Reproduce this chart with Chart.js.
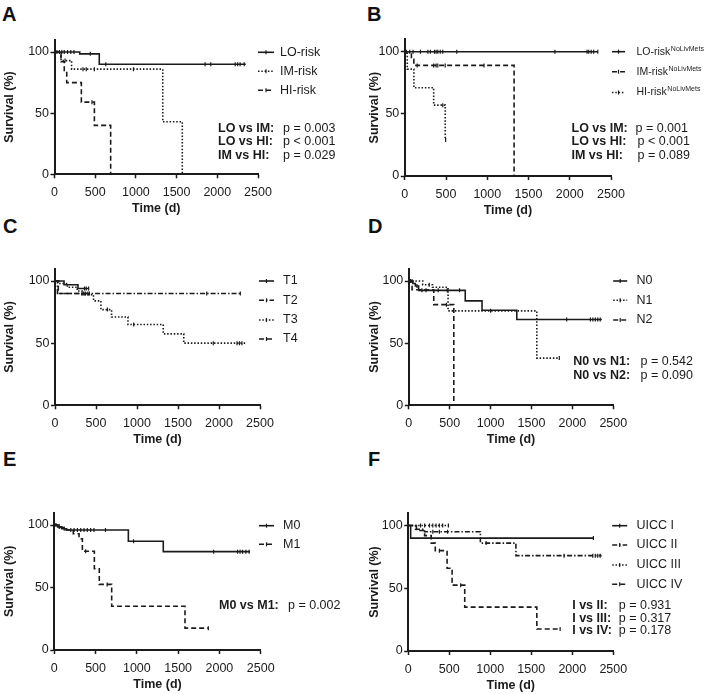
<!DOCTYPE html>
<html>
<head>
<meta charset="utf-8">
<script src="https://cdn.jsdelivr.net/npm/chart.js@4.4.1/dist/chart.umd.min.js"></script>
<style>
  body { margin: 0; background: #fff; width: 709px; height: 694px; position: relative; overflow: hidden; font-family: "Liberation Sans", Arial, sans-serif; }
  canvas { position: absolute; }
  .tag { position: absolute; font-weight: bold; font-size: 20px; line-height: 20px; color: #111; }
</style>
</head>
<body>
<div class="tag" style="left:2px;top:4px">A</div>
<div class="tag" style="left:367px;top:4px">B</div>
<div class="tag" style="left:3px;top:216px">C</div>
<div class="tag" style="left:368px;top:216px">D</div>
<div class="tag" style="left:3px;top:449px">E</div>
<div class="tag" style="left:368px;top:449px">F</div>
<canvas id="pA"></canvas>
<canvas id="pB"></canvas>
<canvas id="pC"></canvas>
<canvas id="pD"></canvas>
<canvas id="pE"></canvas>
<canvas id="pF"></canvas>
<script>
// tick labels
const xTicks = [0, 500, 1000, 1500, 2000, 2500];
const yTicks = [0, 50, 100];

// A - risk groups (time in days, survival in %)
const aLoT = [0, 310, 550];
const aLoS = [100, 98.5, 90];
const aLoEnd = 2350;
const aLoCens = [30, 60, 90, 120, 160, 200, 240, 440, 630, 1850, 1920, 2220, 2250, 2280, 2330];
const aImT = [0, 80, 210, 1330, 1570];
const aImS = [100, 93, 86, 43, 0];
const aImEnd = 1570;
const aImCens = [130, 350, 390, 490, 970];
const aHiT = [0, 80, 120, 150, 330, 490, 690];
const aHiS = [100, 92, 84, 75, 59, 40, 0];
const aHiEnd = 690;
const aHiCens = [460];

// B - risk groups without liver metastases
const bLoT = [0];
const bLoS = [100];
const bLoEnd = 2340;
const bLoCens = [20, 60, 100, 190, 280, 310, 360, 380, 400, 430, 460, 630, 1820, 2210, 2230, 2260, 2290, 2340];
const bImT = [0, 80, 110, 1325];
const bImS = [100, 94, 89, 0];
const bImEnd = 1325;
const bImCens = [150, 350, 380, 400, 490, 960];
const bHiT = [0, 30, 110, 350, 490];
const bHiS = [100, 86, 71, 57, 29];
const bHiEnd = 495;
const bHiCens = [460, 495];

// C - T stage
const cT1T = [0, 110, 280];
const cT1S = [100, 97, 94];
const cT1End = 410;
const cT1Cens = [360, 380, 410];
const cT2T = [0, 30];
const cT2S = [100, 90];
const cT2End = 2260;
const cT2Cens = [350, 400, 1850, 2260];
const cT3T = [0, 60, 150, 270, 330, 470, 560, 690, 890, 1320, 1570];
const cT3S = [100, 98, 95, 92, 89, 84, 77, 71, 65, 57.5, 50];
const cT3End = 2330;
const cT3Cens = [640, 960, 1930, 2220, 2250, 2280];
const cT4T = [0, 40];
const cT4S = [100, 90];
const cT4End = 420;
const cT4Cens = [330, 370, 420];

// D - N stage
const dN0T = [0, 50, 80, 120, 690, 895, 1320];
const dN0S = [100, 98, 96, 92.5, 84, 76.5, 69];
const dN0End = 2360;
const dN0Cens = [20, 40, 100, 160, 210, 360, 470, 620, 1930, 2220, 2250, 2280, 2310, 2340];
const dN1T = [0, 170, 290, 480, 1565];
const dN1S = [100, 97, 95, 76, 38];
const dN1End = 1840;
const dN1Cens = [250, 1000, 1840];
const dN2T = [0, 40, 305, 550];
const dN2S = [100, 93, 81, 0];
const dN2End = 550;
const dN2Cens = [460];

// E - M stage
const eM0T = [0, 40, 90, 150, 897, 1320];
const eM0S = [100, 98.5, 97, 96, 87, 78.7];
const eM0End = 2370;
const eM0Cens = [20, 60, 120, 200, 240, 280, 320, 360, 400, 440, 480, 620, 960, 1930, 2220, 2250, 2280, 2320, 2360];
const eM1T = [0, 60, 130, 230, 300, 340, 485, 545, 695, 1583];
const eM1S = [100, 98, 96, 93, 89, 79, 65, 52.5, 35, 17.5];
const eM1End = 1866;
const eM1Cens = [380, 640, 1866];

// F - UICC stage
const fU1T = [0, 30];
const fU1S = [100, 90];
const fU1End = 2257;
const fU1Cens = [2257];
const fU2T = [0, 90, 200, 880, 1313];
const fU2S = [100, 97, 95, 86, 76];
const fU2End = 2358;
const fU2Cens = [300, 380, 480, 950, 1900, 2250, 2280, 2310, 2340];
const fU3T = [0];
const fU3S = [100];
const fU3End = 490;
const fU3Cens = [150, 200, 260, 300, 340, 380, 420, 490];
const fU4T = [0, 100, 200, 280, 330, 474, 535, 689, 1568];
const fU4S = [100, 96, 92, 86, 80, 66, 52.5, 35, 17.5];
const fU4End = 1852;
const fU4Cens = [380, 640, 1852];

// legend names and test results
const legendA = ['LO-risk', 'IM-risk', 'HI-risk'];
const statsA = [['LO vs IM:', 'p = 0.003'], ['LO vs HI:', 'p < 0.001'], ['IM vs HI:', 'p = 0.029']];
const legendB = ['LO-risk', 'IM-risk', 'HI-risk'];
const statsB = [['LO vs IM:', 'p = 0.001'], ['LO vs HI:', 'p < 0.001'], ['IM vs HI:', 'p = 0.089']];
const legendC = ['T1', 'T2', 'T3', 'T4'];
const legendD = ['N0', 'N1', 'N2'];
const statsD = [['N0 vs N1:', 'p = 0.542'], ['N0 vs N2:', 'p = 0.090']];
const legendE = ['M0', 'M1'];
const statsE = [['M0 vs M1:', 'p = 0.002']];
const legendF = ['UICC I', 'UICC II', 'UICC III', 'UICC IV'];
const statsF = [['I vs II:', 'p = 0.931'], ['I vs III:', 'p = 0.317'], ['I vs IV:', 'p = 0.178']];

const INK = '#1b1b1b';
const FONT = '"Liberation Sans", Arial, sans-serif';
const SOLID = [], DOT = [1.5, 1.8], DASH = [5, 3], DASHDOT = [5, 2, 1.5, 2];

Chart.defaults.font.family = FONT;
Chart.defaults.color = INK;

function steps(t, s, end) {
  const pts = t.map((x, i) => ({ x: x, y: s[i] }));
  if (end > t[t.length - 1]) pts.push({ x: end, y: s[s.length - 1] });
  return pts;
}

function censored(t, s, times) {
  return times.map(x => {
    let y = s[0];
    t.forEach((tt, i) => { if (tt <= x) y = s[i]; });
    return { x: x, y: y };
  });
}

function textPlugin(lay, curves, names, stats, sup) {
  return {
    id: 'kmText',
    afterDraw(chart) {
      const ctx = chart.ctx;
      const ox = lay.box[0], oy = lay.box[1];
      const legSize = sup ? 10.5 : 12.5;
      ctx.save();
      ctx.fillStyle = INK;
      ctx.strokeStyle = INK;
      ctx.textBaseline = 'middle';
      names.forEach((n, i) => {
        const y = lay.leg.rows[i] - oy;
        ctx.lineWidth = 1.6;
        ctx.setLineDash(curves[i].dash);
        ctx.beginPath();
        ctx.moveTo(lay.leg.x0 - ox, y);
        ctx.lineTo(lay.leg.x1 - ox, y);
        ctx.stroke();
        ctx.setLineDash([]);
        ctx.lineWidth = 1.2;
        const mx = (lay.leg.x0 + lay.leg.x1) / 2 - ox;
        ctx.beginPath();
        ctx.moveTo(mx, y - 2);
        ctx.lineTo(mx, y + 2);
        ctx.stroke();
        ctx.font = legSize + 'px ' + FONT;
        ctx.fillText(n, lay.leg.tx - ox, y);
        if (sup) {
          const w = ctx.measureText(n).width;
          ctx.font = '7px ' + FONT;
          ctx.fillText(sup, lay.leg.tx - ox + w + 0.5, y - 3);
        }
      });
      (stats || []).forEach((r, i) => {
        const y = lay.stat.rows[i] - oy;
        ctx.font = 'bold 12.5px ' + FONT;
        ctx.fillText(r[0], lay.stat.lx - ox, y);
        ctx.font = '12.5px ' + FONT;
        ctx.fillText(r[1], lay.stat.vx[i] - ox, y);
      });
      ctx.restore();
    }
  };
}

function kmPanel(id, lay, curves, names, stats, sup) {
  const cv = document.getElementById(id);
  const [cl, ct, cw] = lay.box;
  const [pl, pr, pt, pb] = lay.plot;
  const xH = 45.5;
  const ch = Math.round(pb - ct + xH);
  cv.width = cw;
  cv.height = ch;
  cv.style.left = cl + 'px';
  cv.style.top = ct + 'px';

  const datasets = [];
  curves.forEach(c => {
    datasets.push({
      type: 'line', data: steps(c.t, c.s, c.end), stepped: true,
      borderColor: INK, borderWidth: 1.6, borderDash: c.dash,
      pointRadius: 0, fill: false, clip: 4
    });
    datasets.push({
      type: 'scatter', data: censored(c.t, c.s, c.cens), showLine: false,
      pointStyle: 'line', rotation: 90, pointRadius: 2,
      borderColor: INK, borderWidth: 1.2, clip: 4
    });
  });

  new Chart(cv, {
    type: 'line',
    data: { datasets: datasets },
    options: {
      responsive: false,
      animation: false,
      devicePixelRatio: 1,
      layout: { padding: { left: 0, top: pt - ct, right: cl + cw - pr, bottom: 0 } },
      plugins: { legend: { display: false }, tooltip: { enabled: false } },
      scales: {
        x: {
          type: 'linear', min: 0, max: 2500,
          afterBuildTicks: s => { s.ticks = xTicks.map(v => ({ value: v })); },
          afterFit: s => { s.height = ch - (pb - ct); },
          grid: { drawOnChartArea: false, drawTicks: true, tickLength: 4, tickWidth: 1.5, tickColor: INK },
          border: { display: true, color: INK, width: 2 },
          ticks: { font: { size: 12.5 }, color: INK, padding: 7, maxRotation: 0, callback: v => String(v) },
          title: { display: true, text: 'Time (d)', font: { size: 12.5, weight: 'bold' }, color: INK, padding: { top: 2, bottom: 4 } }
        },
        y: {
          type: 'linear', min: 0, max: 110,
          afterBuildTicks: s => { s.ticks = yTicks.map(v => ({ value: v })); },
          afterFit: s => { s.width = pl - cl; },
          grid: { drawOnChartArea: false, drawTicks: true, tickLength: 4, tickWidth: 1.5, tickColor: INK },
          border: { display: true, color: INK, width: 2 },
          ticks: { font: { size: 12.5 }, color: INK, padding: 1.5, callback: v => String(v) },
          title: { display: true, text: 'Survival (%)', font: { size: 12.5, weight: 'bold' }, color: INK, padding: { top: 2, bottom: 2 } }
        }
      }
    },
    plugins: [textPlugin(lay, curves, names, stats, sup)]
  });
}

// panel geometry in page pixels: canvas [left, top, width], plot [x0, x2500, y110, y0]
const layA = { box: [0, 0, 354], plot: [54.5, 258, 39.8, 174.3],
  leg: { x0: 258, x1: 274, tx: 280, rows: [52.3, 71.3, 90.3] },
  stat: { lx: 218, vx: [283, 283, 283], rows: [128.3, 141.8, 155.3] } };
const layB = { box: [364.5, 0, 344.5], plot: [404.3, 611, 39.3, 176],
  leg: { x0: 611.5, x1: 624.5, tx: 636, rows: [51.7, 71.7, 92.5] },
  stat: { lx: 571, vx: [635, 637, 637], rows: [128.3, 141.8, 155.3] } };
const layC = { box: [0, 228, 354], plot: [55, 260, 268.6, 405.3],
  leg: { x0: 259, x1: 274, tx: 283, rows: [281, 300.3, 320, 339] } };
const layD = { box: [364.5, 228, 344.5], plot: [408.3, 613.3, 268.6, 405.3],
  leg: { x0: 612.7, x1: 626.7, tx: 636, rows: [281, 300.3, 320] },
  stat: { lx: 572.7, vx: [640, 640], rows: [361.7, 375.7] } };
const layE = { box: [0, 456, 354], plot: [54.3, 260.7, 512.5, 650],
  leg: { x0: 259, x1: 274, tx: 283, rows: [525.7, 544.3] },
  stat: { lx: 219, vx: [288], rows: [605.7] } };
const layF = { box: [364.5, 456, 344.5], plot: [407.7, 613.3, 513, 651],
  leg: { x0: 611.7, x1: 626.7, tx: 636, rows: [525.7, 545, 565, 584.3] },
  stat: { lx: 571.7, vx: [618.3, 618.3, 618.3], rows: [605.7, 618.3, 631] } };

kmPanel('pA', layA, [
  { t: aLoT, s: aLoS, end: aLoEnd, cens: aLoCens, dash: SOLID },
  { t: aImT, s: aImS, end: aImEnd, cens: aImCens, dash: DOT },
  { t: aHiT, s: aHiS, end: aHiEnd, cens: aHiCens, dash: DASH }
], legendA, statsA);

kmPanel('pB', layB, [
  { t: bLoT, s: bLoS, end: bLoEnd, cens: bLoCens, dash: SOLID },
  { t: bImT, s: bImS, end: bImEnd, cens: bImCens, dash: DASH },
  { t: bHiT, s: bHiS, end: bHiEnd, cens: bHiCens, dash: DOT }
], legendB, statsB, 'NoLivMets');

kmPanel('pC', layC, [
  { t: cT1T, s: cT1S, end: cT1End, cens: cT1Cens, dash: SOLID },
  { t: cT2T, s: cT2S, end: cT2End, cens: cT2Cens, dash: DASHDOT },
  { t: cT3T, s: cT3S, end: cT3End, cens: cT3Cens, dash: DOT },
  { t: cT4T, s: cT4S, end: cT4End, cens: cT4Cens, dash: DASH }
], legendC, null);

kmPanel('pD', layD, [
  { t: dN0T, s: dN0S, end: dN0End, cens: dN0Cens, dash: SOLID },
  { t: dN1T, s: dN1S, end: dN1End, cens: dN1Cens, dash: DOT },
  { t: dN2T, s: dN2S, end: dN2End, cens: dN2Cens, dash: DASH }
], legendD, statsD);

kmPanel('pE', layE, [
  { t: eM0T, s: eM0S, end: eM0End, cens: eM0Cens, dash: SOLID },
  { t: eM1T, s: eM1S, end: eM1End, cens: eM1Cens, dash: DASH }
], legendE, statsE);

kmPanel('pF', layF, [
  { t: fU1T, s: fU1S, end: fU1End, cens: fU1Cens, dash: SOLID },
  { t: fU2T, s: fU2S, end: fU2End, cens: fU2Cens, dash: DASHDOT },
  { t: fU3T, s: fU3S, end: fU3End, cens: fU3Cens, dash: DOT },
  { t: fU4T, s: fU4S, end: fU4End, cens: fU4Cens, dash: DASH }
], legendF, statsF);
</script>
</body>
</html>
